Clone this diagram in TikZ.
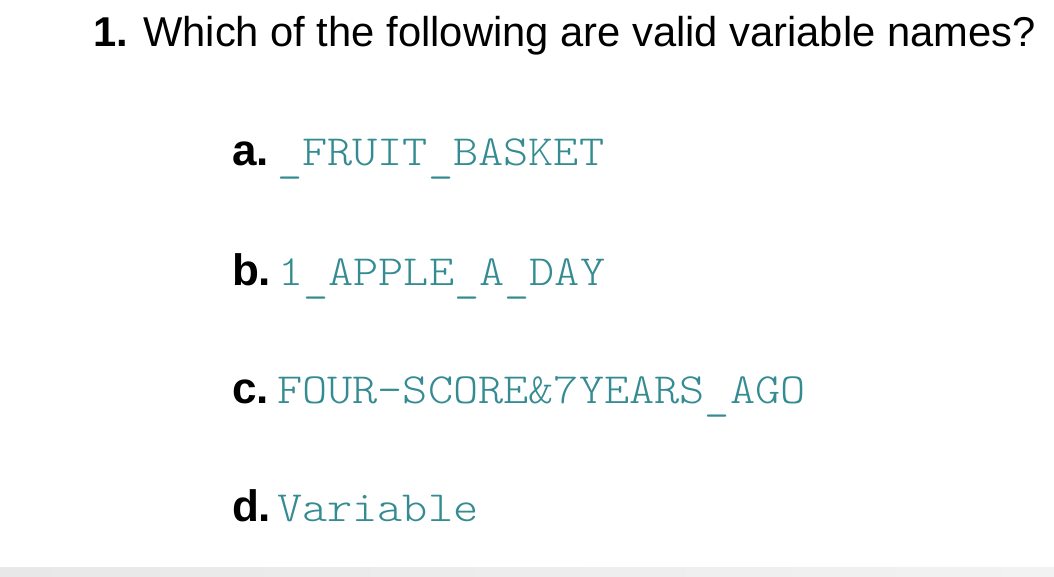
\documentclass[tikz,border=0pt]{standalone}
\usepackage{fontspec}
\setmainfont{Liberation Sans}
\newfontfamily\codefont{Latin Modern Mono Light}
\definecolor{codeteal}{RGB}{52,140,146}
\definecolor{bandgray}{RGB}{232,232,232}
\definecolor{bandlight}{RGB}{242,242,242}
\newcommand{\codetxt}[1]{\scalebox{1.115}[1]{#1}}
\newcommand{\us}{\raisebox{-6pt}{\_}}
\begin{document}
\begin{tikzpicture}[x=1pt,y=1pt,
  every node/.style={inner sep=0pt,outer sep=0pt,anchor=base west},
  qtext/.style={font=\fontsize{41.7}{50}\selectfont},
  lbl/.style={font=\fontsize{44}{50}\selectfont\bfseries},
  code/.style={font=\fontsize{43}{50}\selectfont\codefont,text=codeteal}]
\useasboundingbox (0,0) rectangle (1054,-577);
\fill[white] (0,0) rectangle (1054,-577);
\shade[left color=bandgray,right color=bandlight] (0,-567) rectangle (1054,-577);
\node[qtext] (title) at (93,-47) {\textbf{1.} Which of the following are valid variable names?};
\node[lbl] (la) at (232,-166) {a.};
\node[code] (ca) at (277,-166) {\codetxt{\us FRUIT\us BASKET}};
\node[lbl] (lb) at (232,-285) {b.};
\node[code] (cb) at (278,-285) {\codetxt{1\us APPLE\us A\us DAY}};
\node[lbl] (lc) at (232,-403) {c.};
\node[code] (cc) at (277,-403) {\codetxt{FOUR-SCORE\&7YEARS\us AGO}};
\node[lbl] (ld) at (232,-521) {d.};
\node[code] (cd) at (277,-521) {\codetxt{Variable}};
\end{tikzpicture}
\end{document}
